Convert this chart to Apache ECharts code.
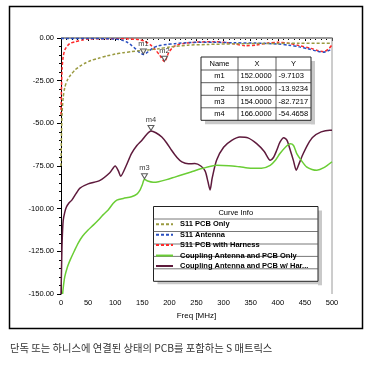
<!DOCTYPE html>
<html><head><meta charset="utf-8">
<script src="https://cdn.jsdelivr.net/npm/echarts@6/dist/echarts.min.js"></script>
<style>html,body{margin:0;padding:0;background:#fff}#c{width:373px;height:365px}</style>
</head><body><div id="c"></div>
<script>
// ---------- DATA ----------
const seriesNames = ['S11 PCB Only', 'S11 Antenna', 'S11 PCB with Harness', 'Coupling Antenna and PCB Only', 'Coupling Antenna and PCB w/ Harness'];

const pcbOnlyF = [0, 1, 2, 4, 7, 12, 17, 26, 35, 44, 55, 69, 85, 100, 115, 130, 145, 161, 180, 200, 234, 270, 320, 380, 440, 500];
const pcbOnlyV = [-75, -55, -44, -35, -29, -24.5, -22, -18.7, -16.5, -14.8, -13.2, -11.9, -10.5, -9.4, -8.6, -8, -7.5, -7, -6.3, -5.3, -4.2, -3.8, -3.4, -3.2, -3.1, -3];

const antennaF = [0, 50, 100, 112, 122, 130, 138, 145, 152, 160, 170, 180, 195, 210, 240, 280, 320, 360, 400, 420, 440, 455, 470, 484, 492, 500];
const antennaV = [-0.3, -0.3, -0.6, -1.2, -2.5, -4.3, -6.5, -8.5, -9.7103, -8.2, -5.8, -4.5, -3.8, -3.3, -2.6, -2.5, -2.8, -3.0, -3.5, -4.2, -5.2, -6.3, -7.5, -8.3, -7.6, -6.5];

const harnessF = [0, 1, 2, 4, 7, 12, 17, 26, 40, 50, 80, 120, 145, 155, 165, 173, 182, 191, 198, 206, 215, 230, 250, 280, 300, 320, 340, 360, 380, 400, 420, 440, 460, 475, 485, 495, 500];
const harnessV = [-45, -28, -18, -11, -7, -4.5, -3.1, -2.2, -1.2, -0.6, -0.4, -0.5, -1, -2, -4, -6.5, -10, -13.9234, -9, -5.5, -4, -3.1, -2.4, -2.2, -2.5, -3.5, -4.5, -4.2, -3, -2.5, -3, -4.5, -6, -7.5, -8, -6, -4];

const couplingF = [3, 5, 7, 12, 17, 25, 32, 40, 50, 60, 69, 78, 87, 96, 103, 115, 130, 140, 146, 150, 154, 160, 170, 180, 195, 210, 225, 240, 260, 287, 310, 330, 350, 370, 386, 396, 404, 414, 423, 429, 435, 444, 453, 463, 472, 485, 500];
const couplingV = [-150, -144, -139.8, -134, -130, -124.5, -120, -116, -112.5, -109.5, -106.6, -103.5, -100.8, -97, -95, -94, -93, -91.5, -89, -86, -82.7217, -83.8, -84.5, -84.2, -83, -81.5, -80, -78.5, -76.5, -74.6, -74.8, -75.5, -76.3, -76.3, -74.6, -71.5, -67.7, -64, -62, -63, -67.7, -72, -75.5, -77, -77.5, -76, -72.5];

const couplingHF = [0, 1, 2, 4, 7, 10, 15, 20, 28, 35, 50, 72, 90, 100, 106, 110, 120, 130, 140, 149, 158, 166, 175, 186, 195, 204, 214, 223, 235, 247, 258, 266, 271, 275, 279, 287, 300, 315, 330, 345, 361, 375, 386, 392, 398, 404, 411, 417, 423, 429, 434, 440, 447, 456, 465, 480, 496, 500];
const couplingHV = [-150, -135, -120, -107, -102, -99, -96.5, -95, -91, -88, -85.5, -83.4, -79, -75, -78, -81, -75, -67.7, -63, -60, -56.5, -54.4658, -55.5, -58, -61.5, -65.8, -70, -72.6, -73.7, -73.6, -75, -78, -84, -89, -82, -71.6, -64, -60, -58, -58.5, -61.9, -66.5, -71.6, -70, -65.8, -61, -58.4, -60, -65.8, -72, -77.5, -73, -67.7, -62, -58, -55, -54, -54];

const markerNames = ['m1', 'm2', 'm3', 'm4'];
const markerX = [152, 191, 154, 166];
const markerY = [-9.7103, -13.9234, -82.7217, -54.4658];

const xTicks = [0, 50, 100, 150, 200, 250, 300, 350, 400, 450, 500];
const yTicks = [0, -25, -50, -75, -100, -125, -150];
const xAxisTitle = 'Freq [MHz]';
const legendTitle = 'Curve Info';
const tableHeaders = ['Name', 'X', 'Y'];
const caption = '단독 또는 하니스에 연결된 상태의 PCB를 포함하는 S 매트릭스';

// ---------- BUILD ----------
const zip = (a, b) => a.map((v, i) => [v, b[i]]);
const colors = ['#9a9a40', '#2a4fc0', '#ff2a2a', '#6acd35', '#5e1a3c'];
const dashed = [true, true, true, false, false];
const dataSets = [zip(pcbOnlyF, pcbOnlyV), zip(antennaF, antennaV), zip(harnessF, harnessV), zip(couplingF, couplingV), zip(couplingHF, couplingHV)];
const FONT = 'Liberation Sans';

const series = [];
for (let i = 4; i >= 0; i--) {
  series.push({
    name: seriesNames[i], type: 'line', data: dataSets[i], symbol: 'none', smooth: 0.25,
    lineStyle: { color: colors[i], width: 1.5, type: dashed[i] ? [3, 2] : 'solid' },
    itemStyle: { color: colors[i] }, z: 2 + (dashed[i] ? 1 : 0)
  });
}
series.push({
  name: 'markers', type: 'scatter',
  data: markerNames.map((n, i) => ({ name: n, value: [markerX[i], markerY[i]] })),
  symbol: 'path://M0,0 L10,0 L5,8 Z', symbolSize: [6, 5], symbolOffset: [0, -3],
  itemStyle: { color: '#fff', borderColor: '#333', borderWidth: 1 },
  label: { show: true, position: 'top', distance: 1, formatter: p => p.name, fontSize: 7.5, fontFamily: FONT, color: '#000' },
  z: 6
});

const cols = [201, 238, 276, 311];
const rows = [57, 70, 82.7, 95.3, 107.8, 120.3];
const g = [];
g.push({ type: 'rect', shape: { x: 9.5, y: 6.5, width: 353, height: 322 }, style: { fill: 'none', stroke: '#000', lineWidth: 1.5 }, z: 1 });
g.push({ type: 'line', shape: { x1: 61, y1: 38, x2: 332, y2: 38 }, style: { stroke: '#9a9a9a', lineWidth: 2 }, z: 1 });
g.push({ type: 'line', shape: { x1: 332, y1: 37, x2: 332, y2: 294 }, style: { stroke: '#9a9a9a', lineWidth: 1 }, z: 1 });

g.push({ type: 'rect', shape: { x: cols[3], y: rows[0] + 4, width: 4, height: rows[5] - rows[0] }, style: { fill: '#c9c9c9' }, z: 5 });
g.push({ type: 'rect', shape: { x: cols[0] + 4, y: rows[5], width: cols[3] - cols[0], height: 4 }, style: { fill: '#c9c9c9' }, z: 5 });
g.push({ type: 'rect', shape: { x: cols[0], y: rows[0], width: cols[3] - cols[0], height: rows[5] - rows[0] }, style: { fill: '#fff', stroke: '#222', lineWidth: 1 }, z: 5 });
for (let r = 1; r < 5; r++) g.push({ type: 'line', shape: { x1: cols[0], y1: rows[r], x2: cols[3], y2: rows[r] }, style: { stroke: '#333', lineWidth: 0.8 }, z: 5 });
for (let c = 1; c < 3; c++) g.push({ type: 'line', shape: { x1: cols[c], y1: rows[0], x2: cols[c], y2: rows[5] }, style: { stroke: '#333', lineWidth: 0.8 }, z: 5 });
tableHeaders.forEach((h, c) => g.push({ type: 'text', x: (cols[c] + cols[c + 1]) / 2, y: (rows[0] + rows[1]) / 2, style: { text: h, fontSize: 7.5, fontFamily: FONT, fill: '#000', align: 'center', verticalAlign: 'middle' }, z: 6 }));
markerNames.forEach((n, i) => {
  const cy = (rows[i + 1] + rows[i + 2]) / 2;
  g.push({ type: 'text', x: (cols[0] + cols[1]) / 2, y: cy, style: { text: n, fontSize: 7.5, fontFamily: FONT, fill: '#000', align: 'center', verticalAlign: 'middle' }, z: 6 });
  g.push({ type: 'text', x: cols[1] + 2.5, y: cy, style: { text: markerX[i].toFixed(4), fontSize: 7.5, fontFamily: FONT, fill: '#000', align: 'left', verticalAlign: 'middle' }, z: 6 });
  g.push({ type: 'text', x: cols[2] + 2.5, y: cy, style: { text: markerY[i].toFixed(4), fontSize: 7.5, fontFamily: FONT, fill: '#000', align: 'left', verticalAlign: 'middle' }, z: 6 });
});

const lb = { x: 153.5, y: 206.5, r: 318, rows: [206.5, 219, 231.5, 244, 256.4, 268.8, 281.3] };
g.push({ type: 'rect', shape: { x: lb.r, y: lb.y + 4, width: 4, height: lb.rows[6] - lb.y }, style: { fill: '#c9c9c9' }, z: 3 });
g.push({ type: 'rect', shape: { x: lb.x + 4, y: lb.rows[6], width: lb.r - lb.x, height: 3 }, style: { fill: '#c9c9c9' }, z: 3 });
g.push({ type: 'rect', shape: { x: lb.x, y: lb.y, width: lb.r - lb.x, height: lb.rows[6] - lb.y }, style: { fill: '#fff', stroke: '#222', lineWidth: 1 }, z: 3 });
for (let r = 1; r < 6; r++) g.push({ type: 'line', shape: { x1: lb.x, y1: lb.rows[r], x2: lb.r, y2: lb.rows[r] }, style: { stroke: '#555', lineWidth: 0.8 }, z: 3 });
g.push({ type: 'text', x: (lb.x + lb.r) / 2, y: (lb.rows[0] + lb.rows[1]) / 2, style: { text: legendTitle, fontSize: 7.5, fontFamily: FONT, fill: '#000', align: 'center', verticalAlign: 'middle' }, z: 4 });

g.push({ type: 'text', x: 10, y: 348, style: { text: caption, fontSize: 10.3, fontFamily: 'Noto Sans CJK KR', fill: '#333', align: 'left', verticalAlign: 'middle' }, z: 1 });

const option = {
  animation: false,
  backgroundColor: '#fff',
  grid: { left: 61, right: 41, top: 38, bottom: 71 },
  xAxis: {
    type: 'value', min: xTicks[0], max: xTicks[xTicks.length - 1], interval: 50,
    name: xAxisTitle, nameLocation: 'middle', nameGap: 17,
    nameTextStyle: { fontSize: 8, fontFamily: FONT, color: '#000' },
    axisLine: { lineStyle: { color: '#000', width: 1 } },
    axisTick: { show: true, length: 3, lineStyle: { color: '#000' } },
    minorTick: { show: true, splitNumber: 5, length: 2, lineStyle: { color: '#000' } },
    axisLabel: { fontSize: 7.5, fontFamily: FONT, color: '#000', margin: 4.5 },
    splitLine: { show: false }
  },
  yAxis: {
    type: 'value', min: yTicks[yTicks.length - 1], max: yTicks[0], interval: 25,
    axisLine: { show: true, lineStyle: { color: '#000', width: 1 } },
    axisTick: { show: true, length: 4, lineStyle: { color: '#000' } },
    minorTick: { show: true, splitNumber: 5, length: 2, lineStyle: { color: '#000' } },
    axisLabel: { fontSize: 7.5, fontFamily: FONT, color: '#000', margin: 7, formatter: v => v.toFixed(2) },
    splitLine: { show: false }
  },
  legend: {
    data: seriesNames, orient: 'vertical', left: 155, top: 220.2, padding: 0,
    itemWidth: 17, itemHeight: 10, itemGap: 2.45, z: 5,
    itemStyle: { opacity: 0 },
    textStyle: { fontSize: 7.5, fontWeight: 'bold', fontFamily: FONT, color: '#000', padding: [0, 0, 0, 2], width: 132, overflow: 'truncate', ellipsis: '...' },
    selectedMode: false
  },
  graphic: g,
  series: series
};
const chart = echarts.init(document.getElementById('c'), null, { renderer: 'canvas' });
chart.setOption(option);
</script>
</body></html>
